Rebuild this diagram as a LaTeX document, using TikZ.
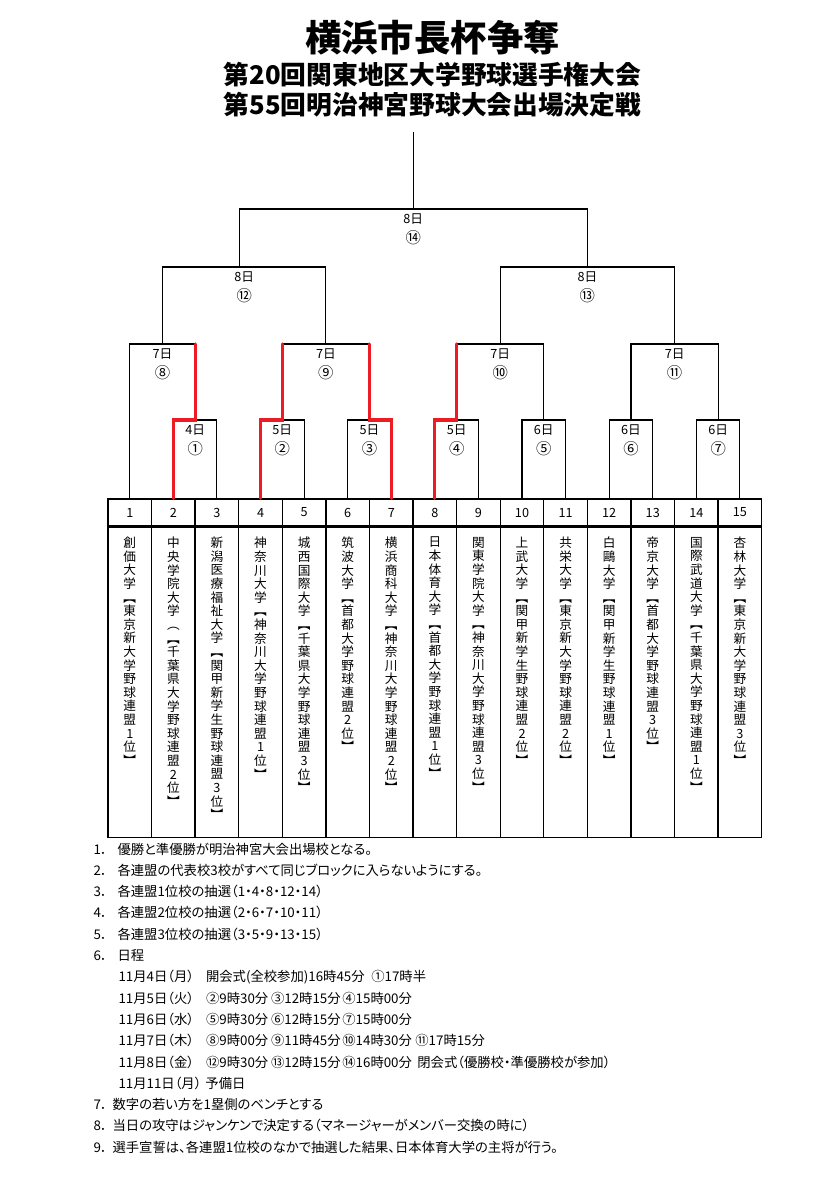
\documentclass[tikz,border=0pt]{standalone}
\usepackage{fontspec}
\setmainfont{Noto Sans CJK JP}
\newfontfamily\notefont[RawFeature=+palt]{Noto Sans CJK JP}
\usetikzlibrary{positioning,calc}
\definecolor{winred}{RGB}{237,28,36}

% vertical text: one character per line
\makeatletter
\newcommand\tate[1]{\@tfor\tatechar:=#1\do{\tatechar\par}}
\makeatother
\newcommand\slot[2]{\makebox[#1][l]{#2}}

\begin{document}
\begin{tikzpicture}[x=0.75pt, y=-0.75pt, line width=0.8pt,
  every node/.style={inner sep=0pt},
  numcell/.style={draw, line width=1pt, minimum width=32.69pt, minimum height=20.25pt,
    font=\fontsize{9.5}{10}\selectfont},
  namecell/.style={draw, line width=1pt, minimum width=32.69pt, minimum height=232.5pt},
  tatebox/.style={text width=12pt, align=center, font=\fontsize{9.5}{10.2}\selectfont},
  rnd/.style={anchor=north, align=center, font=\fontsize{9.5}{15}\selectfont},
  win/.style={draw=winred, line width=2.3pt, line cap=round},
  note/.style={anchor=west, font=\notefont\fontsize{10}{12}\selectfont}]
  \fill[white] (0,0) rectangle (830,1199);
  \useasboundingbox (0,0) rectangle (830,1199);

  % titles
  \node[font=\bfseries\fontsize{27.3}{30}\selectfont] (title) at (432.5,38) {横浜市長杯争奪};
  \node[font=\bfseries\fontsize{19.3}{22}\selectfont] (sub1) at (432.5,75) {第20回関東地区大学野球選手権大会};
  \node[font=\bfseries\fontsize{19.3}{22}\selectfont] (sub2) at (432.5,105) {第55回明治神宮野球大会出場決定戦};

  % table of teams
  \foreach \i in {1,...,15}
    \node[numcell] (n\i) at ({108+43.58*(\i-0.5)},512.5) {\i};
  \foreach \i in {1,...,15}
    \node[namecell, below=0pt of n\i] (k\i) {};
  \foreach \i/\nm in {
      1/{創価大学︻東京新大学野球連盟1位︼},
      2/{中央学院大学︵︻千葉県大学野球連盟2位︼},
      3/{新潟医療福祉大学︻関甲新学生野球連盟3位︼},
      4/{神奈川大学︻神奈川大学野球連盟1位︼},
      5/{城西国際大学︻千葉県大学野球連盟3位︼},
      6/{筑波大学︻首都大学野球連盟2位︼},
      7/{横浜商科大学︻神奈川大学野球連盟2位︼},
      8/{日本体育大学︻首都大学野球連盟1位︼},
      9/{関東学院大学︻神奈川大学野球連盟3位︼},
      10/{上武大学︻関甲新学生野球連盟2位︼},
      11/{共栄大学︻東京新大学野球連盟2位︼},
      12/{白鷗大学︻関甲新学生野球連盟1位︼},
      13/{帝京大学︻首都大学野球連盟3位︼},
      14/{国際武道大学︻千葉県大学野球連盟1位︼},
      15/{杏林大学︻東京新大学野球連盟3位︼}}
    \node[tatebox, below=7.5pt of n\i] (s\i) {\expandafter\tate\expandafter{\nm}};

  % bracket
  \coordinate (m1) at (195.2,420);
  \coordinate (m2) at (282.3,420);
  \coordinate (m3) at (369.5,420);
  \coordinate (m4) at (456.7,420);
  \coordinate (m5) at (543.8,420);
  \coordinate (m6) at (631.0,420);
  \coordinate (m7) at (718.2,420);
  \coordinate (m8) at (162.5,344);
  \coordinate (m9) at (325.9,344);
  \coordinate (m10) at (500.3,344);
  \coordinate (m11) at (674.6,344);
  \coordinate (m12) at (239.3,267);
  \coordinate (m13) at (587.4,267);
  \coordinate (m14) at (413.3,209);
  \coordinate (top) at (413.3,132);

  \draw (n2) |- (m1) -| (n3);
  \draw (n4) |- (m2) -| (n5);
  \draw (n6) |- (m3) -| (n7);
  \draw (n8) |- (m4) -| (n9);
  \draw (n10) |- (m5) -| (n11);
  \draw (n12) |- (m6) -| (n13);
  \draw (n14) |- (m7) -| (n15);
  \draw (n1) |- (m8) -| (m1);
  \draw (m2) |- (m9) -| (m3);
  \draw (m4) |- (m10) -| (m5);
  \draw (m6) |- (m11) -| (m7);
  \draw (m8) |- (m12) -| (m9);
  \draw (m10) |- (m13) -| (m11);
  \draw (m12) |- (m14) -| (m13);
  \draw (m14) -- (top);

  \foreach \m/\d/\c in {1/4/①, 2/5/②, 3/5/③, 4/5/④, 5/6/⑤, 6/6/⑥, 7/6/⑦,
      8/7/⑧, 9/7/⑨, 10/7/⑩, 11/7/⑪, 13/8/⑬, 14/8/⑭}
    \node[rnd] (r\m) at ([yshift=-3pt]m\m) {{\d}日\\{\fontsize{11.5}{15}\selectfont\c}};
  \node[rnd] (r12) at ([xshift=3.7pt, yshift=-3pt]m12) {8日\\{\fontsize{11.5}{15}\selectfont ⑫}};

  % winners so far
  \draw[win] (n2) |- (m1) -- (m1 |- m8);
  \draw[win] (n4) |- (m2) -- (m2 |- m9);
  \draw[win] (n7) |- (m3) -- (m3 |- m9);
  \draw[win] (n8) |- (m4) -- (m4 |- m10);

  % notes
  \node[note] (note1) at (93,849) {\slot{18pt}{1．}優勝と準優勝が明治神宮大会出場校となる。};
  \node[note] (note2) at (93,870.3) {\slot{18pt}{2．}各連盟の代表校3校がすべて同じブロックに入らないようにする。};
  \node[note] (note3) at (93,891.6) {\slot{18pt}{3．}各連盟1位校の抽選（1・4・8・12・14）};
  \node[note] (note4) at (93,912.9) {\slot{18pt}{4．}各連盟2位校の抽選（2・6・7・10・11）};
  \node[note] (note5) at (93,934.2) {\slot{18pt}{5．}各連盟3位校の抽選（3・5・9・13・15）};
  \node[note] (note6) at (93,955.5) {\slot{18pt}{6．}日程};
  \node[note] (day1) at (118,976.8) {11月4日（月）};
  \node[note] (day2) at (118,998.1) {11月5日（火）};
  \node[note] (day3) at (118,1019.4) {11月6日（水）};
  \node[note] (day4) at (118,1040.7) {11月7日（木）};
  \node[note] (day5) at (118,1062) {11月8日（金）};
  \node[note] (day6) at (118,1083.3) {11月11日（月）\hspace{3pt}予備日};
  \node[note] (game1) at (205.5,976.8) {開会式(全校参加)16時45分\hspace{5pt}①17時半};
  \node[note] (game2) at (205.5,998.1) {\slot{48.75pt}{②9時30分}\slot{53.5pt}{③12時15分}④15時00分};
  \node[note] (game3) at (205.5,1019.4) {\slot{48.75pt}{⑤9時30分}\slot{53.5pt}{⑥12時15分}⑦15時00分};
  \node[note] (game4) at (205.5,1040.7) {\slot{48.75pt}{⑧9時00分}\slot{53.5pt}{⑨11時45分}\slot{54.75pt}{⑩14時30分}⑪17時15分};
  \node[note] (game5) at (205.5,1062) {\slot{48.75pt}{⑫9時30分}\slot{53.5pt}{⑬12時15分}\slot{56.25pt}{⑭16時00分}閉会式（優勝校・準優勝校が参加）};
  \node[note] (note7) at (93,1104.6) {\slot{14.25pt}{7．}数字の若い方を1塁側のベンチとする};
  \node[note] (note8) at (93,1125.9) {\slot{14.25pt}{8．}当日の攻守はジャンケンで決定する（マネージャーがメンバー交換の時に）};
  \node[note] (note9) at (93,1147.2) {\slot{14.25pt}{9．}選手宣誓は、各連盟1位校のなかで抽選した結果、日本体育大学の主将が行う。};
\end{tikzpicture}
\end{document}
